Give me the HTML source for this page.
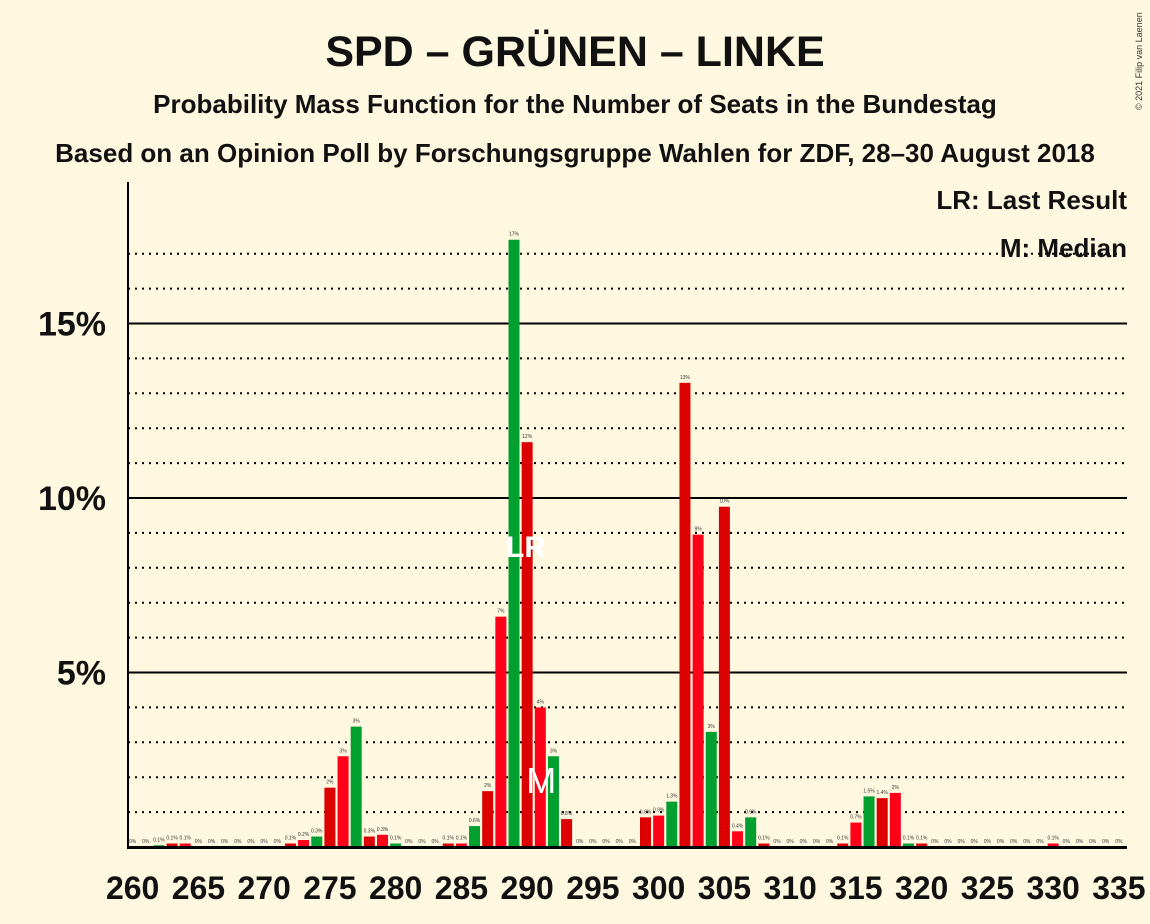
<!DOCTYPE html>
<html><head><meta charset="utf-8"><style>
body{margin:0;background:#fff8e0;font-family:"Liberation Sans",sans-serif}
svg{display:block}
</style></head><body>
<svg width="1150" height="924" viewBox="0 0 1150 924">
<rect width="1150" height="924" fill="#fff8e0"/>
<text x="575" y="66" text-anchor="middle" font-size="43" font-weight="bold" fill="#111">SPD – GRÜNEN – LINKE</text>
<text x="575" y="113" text-anchor="middle" font-size="26" font-weight="bold" fill="#111">Probability Mass Function for the Number of Seats in the Bundestag</text>
<text x="575" y="162" text-anchor="middle" font-size="26" font-weight="bold" fill="#111">Based on an Opinion Poll by Forschungsgruppe Wahlen for ZDF, 28–30 August 2018</text>
<text x="1142" y="110" font-size="9" fill="#333" transform="rotate(-90 1142 110)">© 2021 Filip van Laenen</text>
<g id="grid"></g>
<g id="bars"></g>
<g id="labels"></g>
<line x1="128" y1="182" x2="128" y2="849" stroke="#000" stroke-width="2"/>
<line x1="127" y1="847.5" x2="1127" y2="847.5" stroke="#000" stroke-width="3"/>
<text x="1127" y="209" text-anchor="end" font-size="26" font-weight="bold" fill="#111">LR: Last Result</text>
<text x="1127" y="257" text-anchor="end" font-size="26" font-weight="bold" fill="#111">M: Median</text>
</svg>
<script>
const seats=[];for(let s=260;s<=335;s++)seats.push(s);
const probs=[0,0,0.05,0.1,0.1,0,0,0,0,0,0,0,0.1,0.2,0.3,1.7,2.6,3.45,0.3,0.35,0.1,0,0,0,0.1,0.1,0.6,1.6,6.6,17.4,11.6,4.0,2.6,0.8,0,0,0,0,0,0.85,0.9,1.3,13.3,8.95,3.3,9.75,0.45,0.85,0.1,0,0,0,0,0,0.1,0.7,1.45,1.4,1.55,0.1,0.1,0,0,0,0,0,0,0,0,0,0.1,0,0,0,0,0];
const labelText=["0%","0%","0.1%","0.1%","0.1%","0%","0%","0%","0%","0%","0%","0%","0.1%","0.2%","0.3%","2%","3%","3%","0.3%","0.3%","0.1%","0%","0%","0%","0.1%","0.1%","0.6%","2%","7%","17%","12%","4%","3%","0.8%","0%","0%","0%","0%","0%","0.8%","0.9%","1.3%","13%","9%","3%","10%","0.4%","0.9%","0.1%","0%","0%","0%","0%","0%","0.1%","0.7%","1.5%","1.4%","2%","0.1%","0.1%","0%","0%","0%","0%","0%","0%","0%","0%","0%","0.1%","0%","0%","0%","0%","0%"];
const xTicks=[260,265,270,275,280,285,290,295,300,305,310,315,320,325,330,335];
const yTicks=[5,10,15];
const lastResult=289, median=291;
const NS="http://www.w3.org/2000/svg";
const X=s=>514+(s-289)*13.15;
const Y=p=>847-p*34.9;
function mk(t,a,parent){const e=document.createElementNS(NS,t);for(const k in a)e.setAttribute(k,a[k]);parent.appendChild(e);return e;}
const grid=document.getElementById('grid'),bars=document.getElementById('bars'),labels=document.getElementById('labels'),svg=document.querySelector('svg');
for(let p=1;p<=17;p++){
 const solid=p%5===0;
 const l=mk('line',{x1:128,x2:1127,y1:Y(p),y2:Y(p),stroke:'#000','stroke-width':2,'stroke-dasharray':solid?'none':'2,5'},grid);
 
 
}
yTicks.forEach(v=>{
 const t=mk('text',{x:106,y:Y(v)+12,'text-anchor':'end','font-size':34,'font-weight':'bold',fill:'#111'},svg);
 t.textContent=v+'%';
 
 
});
xTicks.forEach(v=>{
 const t=mk('text',{x:X(v),y:899,'text-anchor':'middle','font-size':32,'font-weight':'bold',fill:'#111'},svg);
 t.textContent=v;
 
 
});
seats.forEach((s,i)=>{
 const p=probs[i];const r=(((s-262)%3)+3)%3;
 const col=r===0?'#00a030':(r===1?'#dd0000':'#ff0018');
 const h=p*34.9;
 if(h>0){
  const b=mk('rect',{x:X(s)-5.5,y:847-h,width:11,height:h,fill:col},bars);
  
  
 }
 const t=mk('text',{x:X(s),y:847-h-4,'text-anchor':'middle','font-size':5,fill:'#333'},labels);
 t.textContent=labelText[i];
 
 
});
const lr=mk('text',{x:X(lastResult)+12,y:557,'text-anchor':'middle','font-size':30,'font-weight':'bold',fill:'#fff'},svg);
lr.textContent='LR';


const md=mk('text',{x:X(median)+1,y:793,'text-anchor':'middle','font-size':36,fill:'#fff'},svg);
md.textContent='M';


</script>
</body></html>
